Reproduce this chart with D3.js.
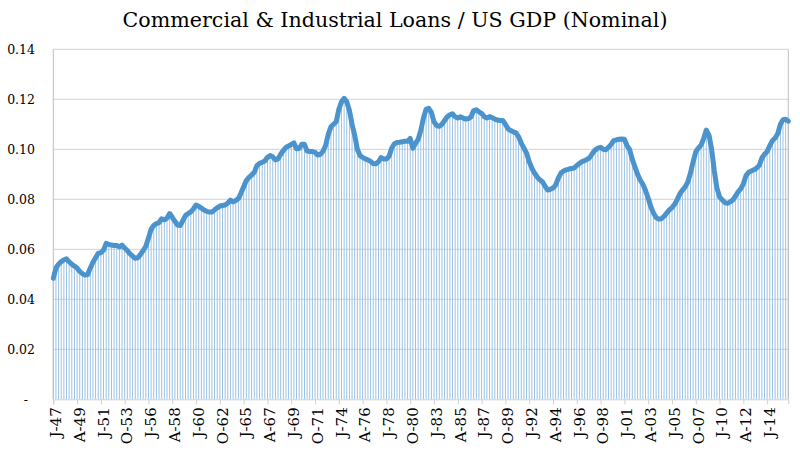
<!DOCTYPE html>
<html>
<head>
<meta charset="utf-8">
<script src="https://cdn.jsdelivr.net/npm/d3@7"></script>
<style>
  html, body { margin: 0; padding: 0; background: #fff; }
  svg { display: block; }
</style>
</head>
<body>
<svg id="chart" width="800" height="452"></svg>
<script>
// ---------- DATA ----------
const title = "Commercial & Industrial Loans / US GDP (Nominal)";
const startYear = 1947;
const quarterLetters = ["J", "A", "J", "O"];

// Quarterly ratio, 1947Q1 .. 2016Q3 (one row per year)
const ratio = [
  0.0484, 0.0525, 0.0540, 0.0551,
  0.0558, 0.0562, 0.0550, 0.0540,
  0.0533, 0.0525, 0.0512, 0.0503,
  0.0497, 0.0499, 0.0525, 0.0548,
  0.0566, 0.0584, 0.0586, 0.0597,
  0.0624, 0.0620, 0.0617, 0.0615,
  0.0615, 0.0610, 0.0617, 0.0605,
  0.0595, 0.0582, 0.0572, 0.0564,
  0.0567, 0.0580, 0.0595, 0.0612,
  0.0645, 0.0680, 0.0695, 0.0703,
  0.0707, 0.0722, 0.0718, 0.0725,
  0.0743, 0.0728, 0.0712, 0.0697,
  0.0695, 0.0715, 0.0735, 0.0743,
  0.0750, 0.0762, 0.0777, 0.0772,
  0.0765, 0.0757, 0.0752, 0.0749,
  0.0749, 0.0758, 0.0766, 0.0773,
  0.0775, 0.0777, 0.0785, 0.0797,
  0.0790, 0.0795, 0.0803, 0.0825,
  0.0850, 0.0875, 0.0888, 0.0897,
  0.0908, 0.0935, 0.0944, 0.0948,
  0.0953, 0.0968, 0.0975, 0.0970,
  0.0958, 0.0962, 0.0980, 0.0995,
  0.1008, 0.1013, 0.1020, 0.1026,
  0.1002, 0.1003, 0.1020, 0.1020,
  0.0993, 0.0991, 0.0991, 0.0988,
  0.0977, 0.0980, 0.0992, 0.1015,
  0.1060, 0.1090, 0.1100, 0.1110,
  0.1160, 0.1190, 0.1204, 0.1190,
  0.1155, 0.1100, 0.1055, 0.1000,
  0.0975, 0.0968, 0.0962, 0.0958,
  0.0952, 0.0943, 0.0942, 0.0950,
  0.0967, 0.0961, 0.0961, 0.0972,
  0.1005, 0.1022, 0.1027, 0.1028,
  0.1030, 0.1032, 0.1032, 0.1044,
  0.1004, 0.1024, 0.1040, 0.1075,
  0.1125, 0.1160, 0.1164, 0.1148,
  0.1110, 0.1095, 0.1092, 0.1100,
  0.1115, 0.1130, 0.1138, 0.1142,
  0.1130, 0.1125, 0.1130, 0.1125,
  0.1121, 0.1123, 0.1130, 0.1155,
  0.1158, 0.1150, 0.1144, 0.1131,
  0.1125, 0.1131, 0.1127, 0.1121,
  0.1117, 0.1115, 0.1115, 0.1100,
  0.1082, 0.1075, 0.1070, 0.1066,
  0.1050, 0.1025, 0.1005, 0.0985,
  0.0950, 0.0925, 0.0905, 0.0890,
  0.0878, 0.0870, 0.0852, 0.0837,
  0.0840, 0.0845, 0.0857, 0.0885,
  0.0905, 0.0913, 0.0918, 0.0921,
  0.0923, 0.0925, 0.0935, 0.0943,
  0.0951, 0.0955, 0.0960, 0.0968,
  0.0985, 0.0998, 0.1005, 0.1008,
  0.1000, 0.0998, 0.1008, 0.1020,
  0.1035, 0.1038, 0.1040, 0.1041,
  0.1040, 0.1015, 0.0999, 0.0960,
  0.0930, 0.0900, 0.0877, 0.0860,
  0.0835, 0.0805, 0.0770, 0.0745,
  0.0727, 0.0721, 0.0722, 0.0732,
  0.0745, 0.0758, 0.0767, 0.0780,
  0.0800, 0.0822, 0.0837, 0.0850,
  0.0870, 0.0905, 0.0950, 0.0990,
  0.1005, 0.1017, 0.1044, 0.1077,
  0.1057, 0.1000, 0.0915, 0.0845,
  0.0810, 0.0798, 0.0787, 0.0784,
  0.0790, 0.0797, 0.0812, 0.0830,
  0.0842, 0.0862, 0.0895, 0.0908,
  0.0913, 0.0918, 0.0925, 0.0935,
  0.0965, 0.0980, 0.0991, 0.1015,
  0.1035, 0.1045, 0.1062, 0.1100,
  0.1118, 0.1120, 0.1113
];

// Category labels (one per quarter)
const categories = ratio.map((_, i) => {
  const y = startYear + Math.floor(i / 4);
  return quarterLetters[i % 4] + "-" + String(y).slice(2) + "#" + i;
});

// Axis tick labels (every 9th quarter)
const tickLabels = ["J-47","A-49","J-51","O-53","J-56","A-58","J-60","O-62","J-65","A-67",
  "J-69","O-71","J-74","A-76","J-78","O-80","J-83","A-85","J-87","O-89",
  "J-92","A-94","J-96","O-98","J-01","A-03","J-05","O-07","J-10","A-12","J-14"];
const tickStep = 9;
const yTicks = [0, 0.02, 0.04, 0.06, 0.08, 0.10, 0.12, 0.14];

// ---------- CHART ----------
const svg = d3.select("#chart");
const plot = { left: 53.3, right: 788.3, top: 49.3, bottom: 399.3 };
const FONT = "'DejaVu Serif', 'Liberation Serif', serif";

const x = d3.scalePoint().domain(categories).range([plot.left, plot.right]);
const y = d3.scaleLinear().domain([0, 0.14]).range([plot.bottom, plot.top]);

// gridlines
svg.append("g")
  .selectAll("line")
  .data(yTicks.filter(d => d > 0))
  .join("line")
  .attr("x1", plot.left).attr("x2", plot.right)
  .attr("y1", d => y(d)).attr("y2", d => y(d))
  .attr("stroke", "#d2d2d2").attr("stroke-width", 1);

// drop lines
svg.append("g")
  .selectAll("line")
  .data(ratio)
  .join("line")
  .attr("x1", (d, i) => x(categories[i])).attr("x2", (d, i) => x(categories[i]))
  .attr("y1", d => y(d)).attr("y2", y(0))
  .attr("stroke", "#9cc2e3").attr("stroke-width", 1);

// plot border (left/right)
svg.append("line").attr("x1", plot.left).attr("x2", plot.left)
  .attr("y1", plot.top).attr("y2", plot.bottom).attr("stroke", "#bdbdbd");
svg.append("line").attr("x1", plot.right).attr("x2", plot.right)
  .attr("y1", plot.top).attr("y2", plot.bottom).attr("stroke", "#bdbdbd");

// x axis
const tickCats = categories.filter((d, i) => i % tickStep === 0);
const xAxis = d3.axisBottom(x)
  .tickValues(tickCats)
  .tickSize(5)
  .tickPadding(4)
  .tickFormat((d, i) => tickLabels[i]);
const gx = svg.append("g").attr("transform", `translate(0,${plot.bottom})`).call(xAxis);
gx.attr("font-size", null).attr("font-family", null);
gx.select(".domain").attr("stroke", "#d0d0d0");
gx.selectAll(".tick line").attr("stroke", "#d0d0d0");
gx.selectAll(".tick text")
  .style("font-family", FONT)
  .style("font-size", "15px")
  .attr("fill", "#000")
  .attr("transform", "rotate(-90)")
  .attr("text-anchor", "end")
  .attr("x", -8)
  .attr("y", 2)
  .attr("dy", "0.35em");

// y axis labels
const yAxis = d3.axisLeft(y)
  .tickValues(yTicks)
  .tickSize(0)
  .tickPadding(0)
  .tickFormat(d => d === 0 ? "-" : d3.format(".2f")(d));
const gy = svg.append("g").attr("transform", `translate(35,0)`).call(yAxis);
gy.attr("font-size", null).attr("font-family", null);
gy.select(".domain").remove();
gy.selectAll(".tick text")
  .style("font-family", FONT)
  .style("font-size", "12.5px")
  .attr("fill", "#000")
  .attr("x", d => d === 0 ? -7 : 0);

// main line
const line = d3.line()
  .x((d, i) => x(categories[i]))
  .y(d => y(d))
  .curve(d3.curveLinear);
svg.append("path")
  .datum(ratio)
  .attr("d", line)
  .attr("fill", "none")
  .attr("stroke", "#4b93cc")
  .attr("stroke-width", 5)
  .attr("stroke-linejoin", "round")
  .attr("stroke-linecap", "round");

// title
const t = svg.append("text")
  .attr("x", 395)
  .attr("y", 27)
  .attr("text-anchor", "middle")
  .attr("font-family", FONT)
  .attr("font-size", 19)
  .attr("fill", "#000")
  .text(title);
const tw = t.node().getComputedTextLength();
if (tw > 0) t.attr("font-size", 19 * 545 / tw);
</script>
</body>
</html>
